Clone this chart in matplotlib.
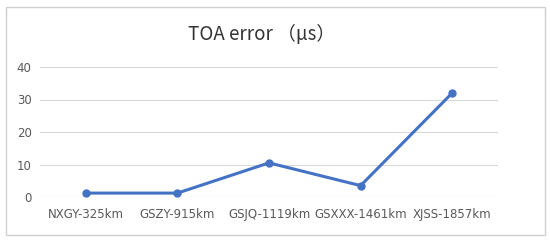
import matplotlib
matplotlib.use("Agg")
import matplotlib.pyplot as plt
from matplotlib.patches import Rectangle

stations = ["NXGY-325km", "GSZY-915km", "GSJQ-1119km", "GSXXX-1461km", "XJSS-1857km"]
toa_err = [1.2, 1.2, 10.5, 3.5, 32.0]
yticks = [0, 10, 20, 30, 40]

BLUE = "#4472C4"
GREY = "#595959"

fig = plt.figure(figsize=(5.5, 2.42), dpi=100)
fig.patches.append(Rectangle((6 / 550, 1 - 235 / 242), 539 / 550, 228 / 242,
                             transform=fig.transFigure, fill=False,
                             edgecolor="#d0d0d0", lw=1.0))
ax = fig.add_axes([40 / 550, 1 - 197 / 242, 458 / 550, 130 / 242])

x = range(len(stations))
ax.plot(x, toa_err, color=BLUE, lw=2.2, marker="o", ms=5, zorder=3)
ax.set_xlim(-0.5, len(stations) - 0.5)
ax.set_ylim(0, 40)
ax.set_yticks(yticks)
ax.set_xticks(list(x))
ax.set_xticklabels(stations)
ax.grid(axis="y", color="#d9d9d9", lw=0.8)
ax.set_axisbelow(True)
for s in ("top", "right", "left", "bottom"):
    ax.spines[s].set_visible(False)
ax.tick_params(length=0, labelsize=8.5, colors=GREY, pad=6)
ax.tick_params(axis="x", pad=8)

fig.text(0.475, 1 - 35 / 242, "TOA error \uff08\u03bcs\uff09", ha="center", va="center",
         fontsize=13.5, color="#333333",
         family=["Noto Sans CJK SC", "DejaVu Sans"])

fig.savefig("out.png", dpi=100)
